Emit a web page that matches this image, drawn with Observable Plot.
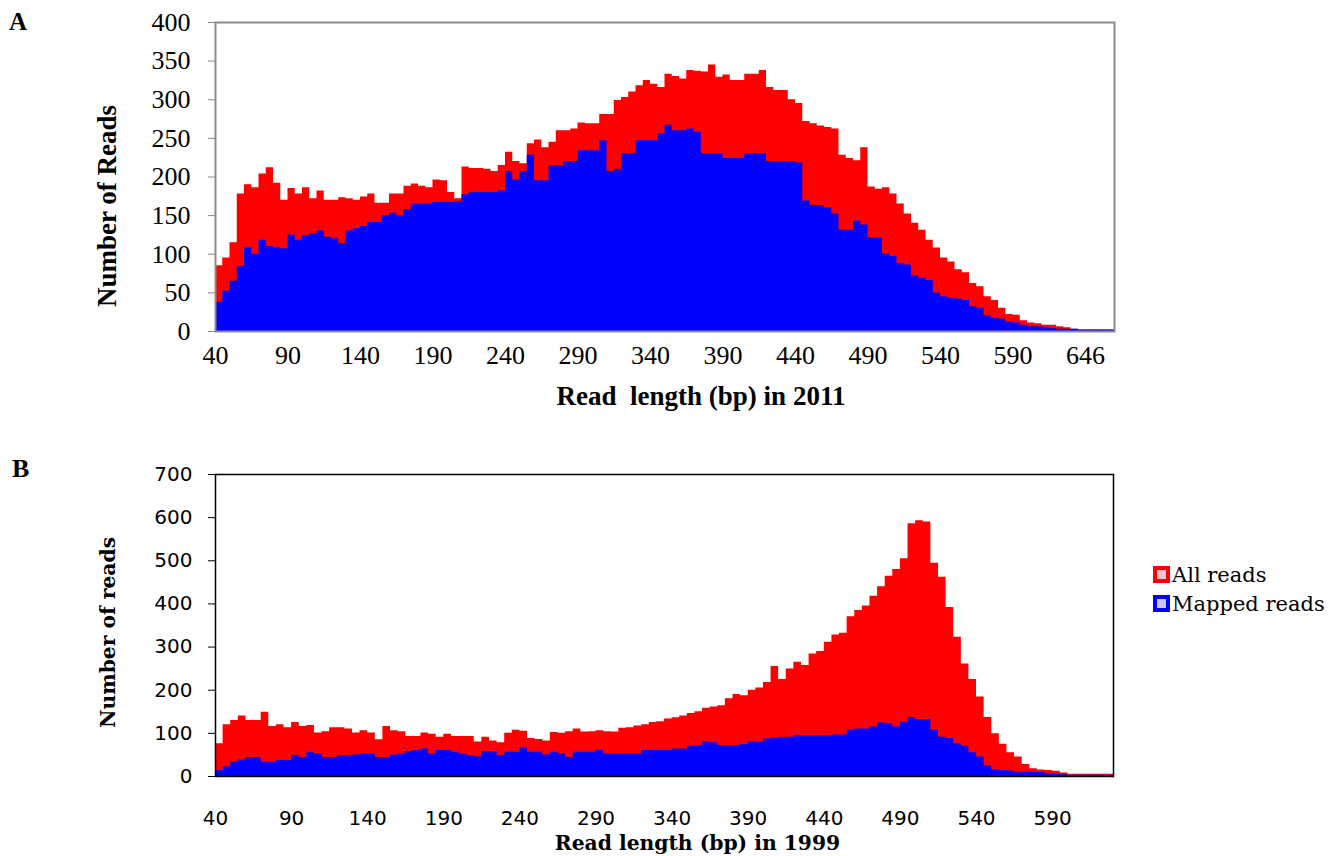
<!DOCTYPE html>
<html>
<head>
<meta charset="utf-8">
<script src="https://cdn.jsdelivr.net/npm/d3@7"></script>
<script src="https://cdn.jsdelivr.net/npm/@observablehq/plot@0.6"></script>
<style>
  body { margin: 0; background: #fff; }
  #wrap { position: relative; width: 1335px; height: 856px; overflow: hidden; background: #fff; }
  .panel { position: absolute; left: 0; }
  .letter { position: absolute; line-height: 1; font-weight: bold; color: #000; font-family: "Liberation Serif", serif; }
  #panelA g[aria-label="x-axis label"] text,
  #panelA g[aria-label="y-axis label"] text { font-family: "Liberation Serif", serif; font-weight: bold; font-size: 27px; white-space: pre; }
  #panelB g[aria-label="x-axis label"] text,
  #panelB g[aria-label="y-axis label"] text { font-family: "DejaVu Serif", serif; font-weight: bold; font-size: 20.3px; }
  #panelA g[aria-label="y-axis tick"] path { stroke: #888; }
  #legend { position: absolute; left: 1153px; top: 0; font-family: "DejaVu Serif", serif; font-size: 21px; color: #000; }
  .lrow { position: absolute; left: 0; height: 29px; display: flex; align-items: center; white-space: nowrap; }
  .sw { width: 9px; height: 9px; border: 4px solid; margin-right: 2px; }
</style>
</head>
<body>
<div id="wrap">
  <div id="panelA" class="panel" style="top:0px"></div>
  <div id="panelB" class="panel" style="top:420px"></div>
  <div class="letter" style="left:9px; top:9px; font-size:25px;">A</div>
  <div class="letter" style="left:12px; top:456px; font-size:26px;">B</div>
  <div id="legend"></div>
</div>
<script>
// ---------------- Panel A (2011) ----------------
const binStartA = 40;      // first read length (bp)
const binWidth = 5;        // bp per bin
const allReadsA = [
  85,95,115,178,190,186,204,212,192,170,
  185,178,186,172,182,170,170,173,172,170,
  174,178,166,166,178,178,188,191,188,186,
  196,195,180,172,213,211,211,210,207,215,
  232,220,217,243,248,238,245,260,260,262,
  270,269,269,281,281,299,303,310,318,325,
  320,316,333,330,327,338,337,336,345,329,
  332,325,325,333,333,338,316,312,312,300,
  295,272,269,266,264,262,228,224,221,238,
  187,184,186,178,165,152,140,131,118,108,
  95,90,80,76,62,58,45,40,30,22,
  21,14,11,10,8,8,6,5,3,2,
  2,2,2,2
];
const mappedReadsA = [
  38,52,65,84,108,100,118,110,108,107,
  125,118,124,127,130,122,120,114,130,133,
  136,141,141,150,153,150,158,165,165,165,
  167,167,167,168,177,180,180,180,180,182,
  207,196,207,228,195,195,215,215,220,220,
  234,234,234,247,207,210,230,230,247,247,
  247,256,267,260,260,262,258,230,230,230,
  224,224,224,230,230,230,220,220,220,220,
  218,169,163,163,160,152,131,131,143,138,
  121,121,100,97,88,86,72,69,66,50,
  45,43,42,40,32,30,20,17,16,12,
  11,8,6,6,5,4,3,3,3,2,
  2,2,2,2
];
const xTickValuesA = [40,90,140,190,240,290,340,390,440,490,540,590,640];
const xTickLabelsA = ["40","90","140","190","240","290","340","390","440","490","540","590","646"];
const yTicksA = [0,50,100,150,200,250,300,350,400];

// ---------------- Panel B (1999) ----------------
const binStartB = 40;
const allReadsB = [
  76,120,130,140,130,130,149,116,120,113,
  125,116,118,101,104,113,113,110,101,106,
  101,85,116,106,104,93,93,101,98,91,
  98,93,93,93,80,91,82,78,100,107,
  105,88,86,82,102,100,104,110,103,104,
  106,104,103,112,113,117,120,125,127,133,
  136,140,146,150,158,161,164,180,190,187,
  200,205,218,255,225,249,265,257,284,290,
  311,328,332,370,385,395,418,440,464,480,
  505,586,593,590,494,462,392,323,261,225,
  184,137,99,75,55,45,28,18,15,14,
  12,8,5,5,5,5,5,5
];
const mappedReadsB = [
  14,22,33,38,44,44,33,33,37,37,
  49,44,56,52,44,44,48,48,50,52,
  52,44,44,50,52,58,60,64,52,60,
  60,56,52,48,46,58,58,48,56,56,
  66,56,56,50,56,52,44,56,56,56,
  60,52,52,52,52,52,60,60,60,60,
  64,64,70,72,80,78,72,72,72,74,
  80,80,87,89,91,91,95,95,95,95,
  95,96,96,108,110,110,115,124,122,115,
  126,137,132,132,107,91,88,76,70,55,
  45,25,15,14,13,10,10,10,9,6,
  5,4,3,3,3,3,3,3
];
const xTickValuesB = [40,90,140,190,240,290,340,390,440,490,540,590];
const xTickLabelsB = ["40","90","140","190","240","290","340","390","440","490","540","590"];
const yTicksB = [0,100,200,300,400,500,600,700];

const seriesNames = ["All reads", "Mapped reads"];
const seriesColors = ["#ff0000", "#0000ff"];

function buildRows(start, all, mapped) {
  const rows = all.map((v, i) => ({len: start + i * binWidth, all: v, mapped: mapped[i]}));
  const last = rows[rows.length - 1];
  rows.push({len: last.len + binWidth, all: last.all, mapped: last.mapped}); // close last step
  return rows;
}
const rowsA = buildRows(binStartA, allReadsA, mappedReadsA);
const rowsB = buildRows(binStartB, allReadsB, mappedReadsB);

// nudge an axis title (as in the original Excel layout, titles are off-centre)
function shiftLabel(svg, axis, dx, dy) {
  const g = svg.querySelector(`g[aria-label="${axis}-axis label"]`);
  if (g) g.setAttribute("transform", `translate(${dx},${dy}) ` + (g.getAttribute("transform") || ""));
}

const chartA = Plot.plot({
  width: 1335, height: 420,
  marginLeft: 215, marginRight: 221, marginTop: 22, marginBottom: 89,
  style: {fontFamily: "'Liberation Serif', serif", fontSize: "26px", color: "#000", background: "transparent", overflow: "visible"},
  x: {domain: [40, 660], ticks: xTickValuesA, tickFormat: d => xTickLabelsA[xTickValuesA.indexOf(d)],
      tickSize: 0, tickPadding: 14, label: "Read  length (bp) in 2011", labelAnchor: "center", labelOffset: 73, labelArrow: "none"},
  y: {domain: [0, 400], ticks: yTicksA, tickSize: 7, tickPadding: 18,
      label: "Number of Reads", labelAnchor: "center", labelOffset: 119, labelArrow: "none"},
  marks: [
    Plot.areaY(rowsA, {x: "len", y: "all", fill: seriesColors[0], curve: "step-after", clip: true}),
    Plot.areaY(rowsA, {x: "len", y: "mapped", fill: seriesColors[1], curve: "step-after", clip: true}),
    Plot.frame({stroke: "#8a8a8a", strokeWidth: 2})
  ]
});
shiftLabel(chartA, "x", 36, 0);
shiftLabel(chartA, "y", 0, 29);
document.getElementById("panelA").appendChild(chartA);

const chartB = Plot.plot({
  width: 1335, height: 436,
  marginLeft: 215, marginRight: 222, marginTop: 54, marginBottom: 80,
  style: {fontFamily: "'DejaVu Sans', sans-serif", fontSize: "20px", color: "#000", background: "transparent", overflow: "visible"},
  x: {domain: [40, 630], ticks: xTickValuesB, tickFormat: d => xTickLabelsB[xTickValuesB.indexOf(d)],
      tickSize: 0, tickPadding: 34, label: "Read length (bp) in 1999", labelAnchor: "center", labelOffset: 73, labelArrow: "none"},
  y: {domain: [0, 700], ticks: yTicksB, tickSize: 7, tickPadding: 16,
      label: "Number of reads", labelAnchor: "center", labelOffset: 115, labelArrow: "none"},
  marks: [
    Plot.areaY(rowsB, {x: "len", y: "all", fill: seriesColors[0], curve: "step-after", clip: true}),
    Plot.areaY(rowsB, {x: "len", y: "mapped", fill: seriesColors[1], curve: "step-after", clip: true}),
    Plot.frame({stroke: "#000", strokeWidth: 1.5})
  ]
});
shiftLabel(chartB, "x", 33, 0);
shiftLabel(chartB, "y", 0, 7);
document.getElementById("panelB").appendChild(chartB);

// legend (panel B)
const legend = document.getElementById("legend");
const inner = ["#f2c4cc", "#c8c8ee"];
seriesNames.forEach((name, i) => {
  const row = document.createElement("div");
  row.className = "lrow";
  row.style.top = (560 + i * 29) + "px";
  const sw = document.createElement("span");
  sw.className = "sw";
  sw.style.borderColor = seriesColors[i];
  sw.style.background = inner[i];
  const t = document.createElement("span");
  t.textContent = name;
  row.appendChild(sw); row.appendChild(t);
  legend.appendChild(row);
});
</script>
</body>
</html>
